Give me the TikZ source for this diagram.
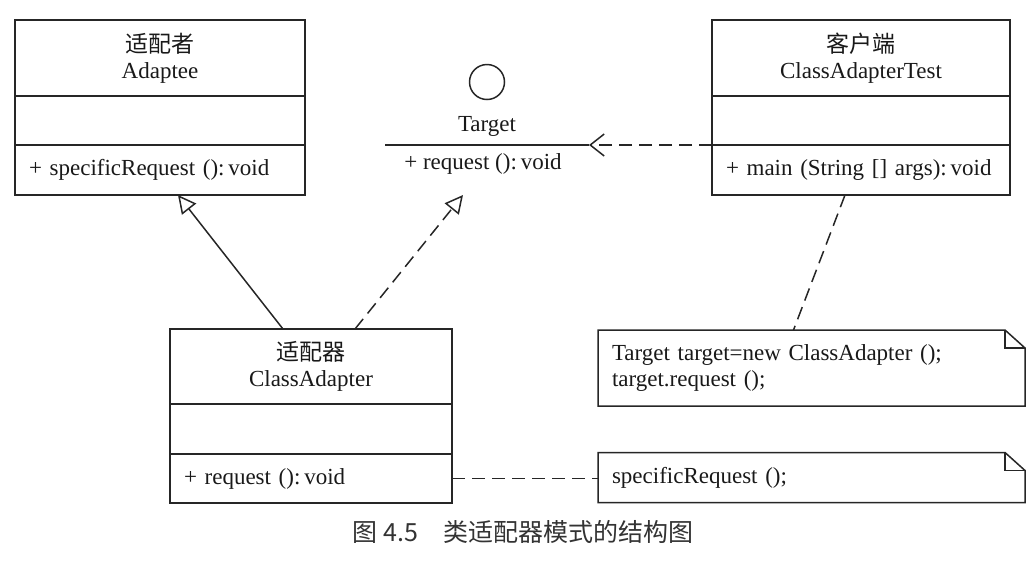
\documentclass[tikz,border=0pt]{standalone}
\usepackage{fontspec}
\setmainfont{Liberation Serif}
\newfontfamily\cjk{Noto Sans CJK SC}
\usetikzlibrary{positioning,arrows.meta}

% note with folded corner, drawn round a node
\newcommand{\foldnote}[1]{%
  \draw[umlline] (#1.north west) -- ([xshift=-10pt]#1.north east)
    -- ([yshift=-9pt]#1.north east) -- (#1.south east) -- (#1.south west) -- cycle;
  \draw[umlline] ([xshift=-10pt]#1.north east) |- ([yshift=-9pt]#1.north east);
}

\begin{document}
\begin{tikzpicture}[x=0.5pt,y=-0.5pt,
    umlline/.style={draw=black!85, line width=0.75pt},
    umltext/.style={text=black!90, font=\fontsize{11.5}{13}\selectfont},
    classpart/.style={umlline, umltext, inner sep=0pt, outer sep=0pt},
    classname/.style={classpart, minimum width=#1, minimum height=38pt, align=center},
    classattr/.style={classpart, minimum width=#1, minimum height=24.5pt},
    classops/.style={classpart, text width=#1, inner xsep=7pt, minimum height=25pt, align=left},
    notebox/.style={umltext, inner sep=0pt, inner xsep=7pt, outer sep=0pt, align=left},
    dep/.style={umlline, dash pattern=on 6.5pt off 3.5pt},
    gen/.style={umlline, -{Triangle[open,length=9pt,width=9pt]}}]
    \useasboundingbox (0,0) rectangle (1028,564);

    % Adaptee
    \node[classname=145pt, anchor=north west] (adaptee-name) at (15,20)
        {{\cjk\fontsize{11.5}{13}\selectfont 适配者}\\Adaptee};
    \node[classattr=145pt, below=0pt of adaptee-name] (adaptee-attr) {};
    \node[classops=131pt, below=0pt of adaptee-attr] (adaptee-ops)
        {+ specificRequest ():\,void};

    % Client
    \node[classname=149pt, anchor=north west] (client-name) at (712,20)
        {{\cjk\fontsize{11.5}{13}\selectfont 客户端}\\ClassAdapterTest};
    \node[classattr=149pt, below=0pt of client-name] (client-attr) {};
    \node[classops=135pt, below=0pt of client-attr] (client-ops)
        {+ main (String [] args):\,void};

    % Target interface
    \node[umlline, circle, minimum size=17.5pt, inner sep=0pt] (target-ball) at (487,82) {};
    \node[umltext] (target-name) at (487,126) {Target};
    \coordinate (target-l) at (385,145);
    \coordinate (target-r) at (589,145);
    \draw[umlline] (target-l) -- (target-r);
    \node[umltext] (target-ops) at (483,164) {+ request ():\,void};
    \coordinate (target-foot) at (463,195);

    % ClassAdapter
    \node[classname=141pt, minimum height=37.5pt, anchor=north west] (adapter-name) at (170,329)
        {{\cjk\fontsize{11.5}{13}\selectfont 适配器}\\ClassAdapter};
    \node[classattr=141pt, minimum height=25pt, below=0pt of adapter-name] (adapter-attr) {};
    \node[classops=127pt, minimum height=24.5pt, below=0pt of adapter-attr] (adapter-ops)
        {+ request ():\,void};

    % Notes
    \node[notebox, text width=199.5pt, minimum height=38pt] (note-client) at (811.5,368)
        {Target target=new ClassAdapter ();\\target.request ();};
    \foldnote{note-client}
    \node[notebox, text width=199.5pt, minimum height=25pt] (note-spec) at (811.5,477.5)
        {specificRequest ();};
    \foldnote{note-spec}

    % Relations
    \draw[dep, -{Straight Barb[length=7pt,width=11pt]}] (client-attr.south west) -- (target-r);
    \draw[gen] ([xshift=-14pt]adapter-name.north) -- ([xshift=9pt]adaptee-ops.south);
    \draw[gen, dash pattern=on 6.5pt off 3.5pt] ([xshift=22pt]adapter-name.north) -- (target-foot);
    \draw[dep] ([xshift=-8pt]client-ops.south) -- ([xshift=-9pt]note-client.north);
    \draw[dep] (adapter-ops.east) -- (adapter-ops.east -| note-spec.west);

    % Caption
    \node[text=black!80, font=\cjk\fontsize{12.5}{14}\selectfont] (caption) at (523,532)
        {图 4.5\quad 类适配器模式的结构图};
\end{tikzpicture}
\end{document}
